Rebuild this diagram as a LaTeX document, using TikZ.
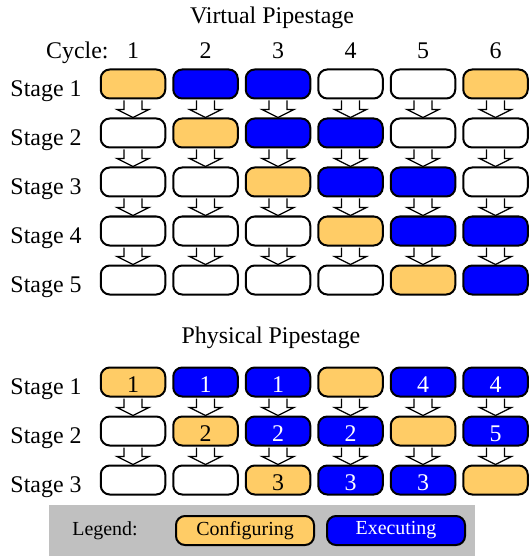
\documentclass[tikz,border=0pt]{standalone}
\usepackage{fontspec}
\setmainfont{Liberation Serif}
\usetikzlibrary{positioning, calc}
\definecolor{confcol}{RGB}{255,204,102}
\definecolor{execcol}{RGB}{0,0,255}
\definecolor{legendgray}{RGB}{192,192,192}
\tikzset{
  box/.style={draw, line width=2bp, rounded corners=9bp, minimum width=64.5bp, minimum height=29bp, inner sep=0pt},
  conf/.style={box, fill=confcol},
  exec/.style={box, fill=execcol, text=white},
  idle/.style={box, fill=white},
  lab/.style={inner sep=0pt, text height=25bp, text depth=0pt},
  cell/.style={text height=21bp, text depth=0pt},
  flow/.style={draw, line width=1.2bp, fill=white, line join=miter,
    to path={let \p1=(\tikztostart.south), \p2=(\tikztotarget.north) in
      (\x1-9bp,\y1-1bp) -- (\x1-9bp,\y1-10bp) -- (\x1-16bp,\y1-10bp) -- (\x1,\y2)
      -- (\x1+16bp,\y1-10bp) -- (\x1+9bp,\y1-10bp) -- (\x1+9bp,\y1-1bp)}},
}
\newcommand{\legendsize}{\fontsize{20}{24}\selectfont}

\begin{document}
\begin{tikzpicture}[x=1bp, y=-1bp, font=\fontsize{24}{29}\selectfont]
  \useasboundingbox (0,0) rectangle (530,556);

  % virtual pipestage
  \node[anchor=base] (vtitle) at (272,24) {Virtual Pipestage};
  \foreach \r/\ypos/\cols in {1/84/{conf,exec,exec,idle,idle,conf},
                              2/133/{idle,conf,exec,exec,idle,idle},
                              3/182/{idle,idle,conf,exec,exec,idle},
                              4/231/{idle,idle,idle,conf,exec,exec},
                              5/280/{idle,idle,idle,idle,conf,exec}} {
    \foreach \st [count=\c] in \cols
      \node[\st] (virt\r\c) at ({60.5+72.5*\c},\ypos) {};
    \node[lab, left=18bp of virt\r1] (vstage\r) {Stage \r};
  }
  \foreach \c in {1,...,6}
    \node[lab, above=9.5bp of virt1\c] (cyc\c) {\c};
  \node[lab, left=18bp of cyc1] (cycle) {Cycle:};
  \foreach \r [evaluate=\r as \nxt using int(\r+1)] in {1,...,4}
    \foreach \c in {1,...,6}
      \draw[flow] (virt\r\c) to (virt\nxt\c);

  % physical pipestage
  \node[anchor=base] (ptitle) at (271,343) {Physical Pipestage};
  \foreach \r/\ypos/\cols in {1/382/{conf/1,exec/1,exec/1,conf/,exec/4,exec/4},
                              2/431/{idle/,conf/2,exec/2,exec/2,conf/,exec/5},
                              3/480/{idle/,idle/,conf/3,exec/3,exec/3,conf/}} {
    \foreach \st/\num [count=\c] in \cols
      \node[\st, cell] (phys\r\c) at ({60.5+72.5*\c},\ypos) {\num};
    \node[lab, left=18bp of phys\r1] (pstage\r) {Stage \r};
  }
  \foreach \r [evaluate=\r as \nxt using int(\r+1)] in {1,2}
    \foreach \c in {1,...,6}
      \draw[flow] (phys\r\c) to (phys\nxt\c);

  % legend
  \fill[legendgray] (49,505) rectangle (475,556);
  \node[font=\legendsize] (legend) at (105,531) {Legend:};
  \node[conf, minimum width=138bp, font=\legendsize] (keyconf) at (245,530.5) {Configuring};
  \node[exec, minimum width=138bp, font=\legendsize, right=11bp of keyconf] (keyexec) {Executing};
\end{tikzpicture}
\end{document}
